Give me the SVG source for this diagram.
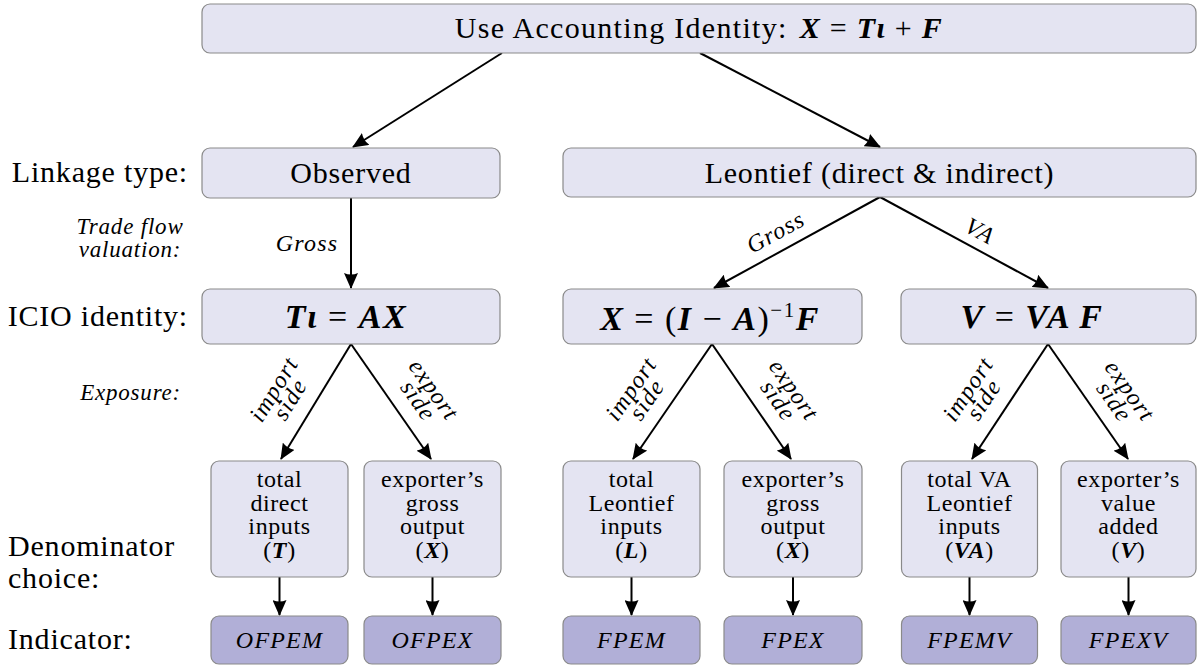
<svg xmlns="http://www.w3.org/2000/svg" width="1199" height="666" viewBox="0 0 1199 666" font-family="'Liberation Serif', 'DejaVu Serif', serif">
<defs>
<style>
.box{fill:#e4e4f2;stroke:#8a8a8a;stroke-width:1.2}
.ind{fill:#b1afd7;stroke:#8a8a8a;stroke-width:1.2}
text{font-family:'Liberation Serif','DejaVu Serif',serif}
.t{fill:#000}
.main{font-size:30px;letter-spacing:0.8px}
.top{letter-spacing:1.3px}
.den{font-size:24px;letter-spacing:0.6px}
.lab{font-size:23px;font-style:italic;letter-spacing:0.8px}
.ital{font-size:24px;font-style:italic;letter-spacing:1.2px}
.math{font-size:34px;letter-spacing:1.5px}
.m{font-weight:bold;font-style:italic}
.edge{fill:none;stroke:#000;stroke-width:2;marker-end:url(#ah)}
</style>
<marker id="ah" markerWidth="16" markerHeight="14" refX="15" refY="7" orient="auto" markerUnits="userSpaceOnUse">
<path d="M0,0 L16,7 L0,14 Q3,7 0,0 z" fill="#000"/>
</marker>
</defs>
<rect width="1199" height="666" fill="#fff"/>

<g id="connectors">
<line class="edge" x1="502" y1="53" x2="353" y2="147"/>
<line class="edge" x1="700" y1="53" x2="880" y2="147"/>
<line class="edge" x1="351" y1="198" x2="351" y2="288"/>
<line class="edge" x1="880" y1="197" x2="714" y2="288"/>
<line class="edge" x1="880" y1="197" x2="1048" y2="288"/>
<line class="edge" x1="351" y1="344" x2="281" y2="459"/>
<line class="edge" x1="351" y1="344" x2="431" y2="459"/>
<line class="edge" x1="712" y1="344" x2="633" y2="459"/>
<line class="edge" x1="712" y1="344" x2="791" y2="459"/>
<line class="edge" x1="1048" y1="344" x2="972" y2="459"/>
<line class="edge" x1="1048" y1="344" x2="1128" y2="459"/>
<line class="edge" x1="279.5" y1="577" x2="279.5" y2="615"/>
<line class="edge" x1="432.5" y1="577" x2="432.5" y2="615"/>
<line class="edge" x1="631.5" y1="577" x2="631.5" y2="615"/>
<line class="edge" x1="793" y1="577" x2="793" y2="615"/>
<line class="edge" x1="969.5" y1="577" x2="969.5" y2="615"/>
<line class="edge" x1="1128.5" y1="577" x2="1128.5" y2="615"/>
<text class="t ital" x="307" y="251" text-anchor="middle">Gross</text>
<text class="t ital" text-anchor="middle" transform="translate(776,233) rotate(-28.6)" y="7">Gross</text>
<text class="t ital" text-anchor="middle" transform="translate(980,231) rotate(28.6)" y="8">VA</text>
<g transform="translate(283,395) rotate(-58.4)"><text class="t ital" text-anchor="middle" y="-3">import</text><text class="t ital" text-anchor="middle" y="16">side</text></g>
<g transform="translate(425,396) rotate(54.9)"><text class="t ital" text-anchor="middle" y="-3">export</text><text class="t ital" text-anchor="middle" y="16">side</text></g>
<g transform="translate(640,395) rotate(-55.3)"><text class="t ital" text-anchor="middle" y="-3">import</text><text class="t ital" text-anchor="middle" y="16">side</text></g>
<g transform="translate(785,396) rotate(55.3)"><text class="t ital" text-anchor="middle" y="-3">export</text><text class="t ital" text-anchor="middle" y="16">side</text></g>
<g transform="translate(977,395) rotate(-56.3)"><text class="t ital" text-anchor="middle" y="-3">import</text><text class="t ital" text-anchor="middle" y="16">side</text></g>
<g transform="translate(1121,397) rotate(54.9)"><text class="t ital" text-anchor="middle" y="-3">export</text><text class="t ital" text-anchor="middle" y="16">side</text></g>
</g>

<g id="row-labels">
<text class="t main" x="188" y="182" text-anchor="end">Linkage type:</text>
<text class="t lab" x="130" y="234" text-anchor="middle">Trade flow</text>
<text class="t lab" x="130" y="257" text-anchor="middle">valuation:</text>
<text class="t main" x="188" y="326" text-anchor="end">ICIO identity:</text>
<text class="t lab" x="181" y="400" text-anchor="end">Exposure:</text>
<text class="t main" x="8" y="556">Denominator</text>
<text class="t main" x="8" y="588">choice:</text>
<text class="t main" x="8" y="649">Indicator:</text>
</g>

<g id="n-top">
<rect class="box" x="202" y="4" width="994" height="49" rx="8"/>
<text class="t main top" x="699" y="38" text-anchor="middle">Use Accounting Identity:<tspan dx="12" class="m">X</tspan> = <tspan class="m">Tι</tspan> + <tspan class="m">F</tspan></text>
</g>
<g id="n-observed">
<rect class="box" x="202" y="148" width="298" height="50" rx="8"/>
<text class="t main" x="351" y="183" text-anchor="middle">Observed</text>
</g>
<g id="n-leontief">
<rect class="box" x="563" y="148" width="633" height="49" rx="8"/>
<text class="t main" x="879.5" y="183" text-anchor="middle">Leontief (direct &amp; indirect)</text>
</g>
<g id="n-icio1">
<rect class="box" x="202" y="289" width="298" height="55" rx="8"/>
<text class="t math" x="346" y="328" text-anchor="middle"><tspan class="m">Tι</tspan> = <tspan class="m">AX</tspan></text>
</g>
<g id="n-icio2">
<rect class="box" x="563" y="289" width="299" height="55" rx="8"/>
<text class="t math" x="710" y="330" text-anchor="middle"><tspan class="m">X</tspan> = (<tspan class="m">I</tspan> − <tspan class="m">A</tspan>)<tspan dy="-13" font-size="21">−1</tspan><tspan dy="13" class="m">F</tspan></text>
</g>
<g id="n-icio3">
<rect class="box" x="901" y="289" width="295" height="55" rx="8"/>
<text class="t math" x="1032" y="328" text-anchor="middle"><tspan class="m">V</tspan> = <tspan class="m">VA F</tspan></text>
</g>

<g id="n-den1">
<rect class="box" x="211" y="461" width="137" height="116" rx="8"/>
<text class="t den" text-anchor="middle"><tspan x="279.5" y="487">total</tspan><tspan x="279.5" y="510.5">direct</tspan><tspan x="279.5" y="534">inputs</tspan><tspan x="279.5" y="557.5">(<tspan class="m">T</tspan>)</tspan></text>
</g>
<g id="n-den2">
<rect class="box" x="364" y="461" width="137" height="116" rx="8"/>
<text class="t den" text-anchor="middle"><tspan x="432.5" y="487">exporter’s</tspan><tspan x="432.5" y="510.5">gross</tspan><tspan x="432.5" y="534">output</tspan><tspan x="432.5" y="557.5">(<tspan class="m">X</tspan>)</tspan></text>
</g>
<g id="n-den3">
<rect class="box" x="563" y="461" width="137" height="116" rx="8"/>
<text class="t den" text-anchor="middle"><tspan x="631.5" y="487">total</tspan><tspan x="631.5" y="510.5">Leontief</tspan><tspan x="631.5" y="534">inputs</tspan><tspan x="631.5" y="557.5">(<tspan class="m">L</tspan>)</tspan></text>
</g>
<g id="n-den4">
<rect class="box" x="724" y="461" width="138" height="116" rx="8"/>
<text class="t den" text-anchor="middle"><tspan x="793" y="487">exporter’s</tspan><tspan x="793" y="510.5">gross</tspan><tspan x="793" y="534">output</tspan><tspan x="793" y="557.5">(<tspan class="m">X</tspan>)</tspan></text>
</g>
<g id="n-den5">
<rect class="box" x="901.5" y="461" width="136" height="116" rx="8"/>
<text class="t den" text-anchor="middle"><tspan x="969.5" y="487">total VA</tspan><tspan x="969.5" y="510.5">Leontief</tspan><tspan x="969.5" y="534">inputs</tspan><tspan x="969.5" y="557.5">(<tspan class="m">VA</tspan>)</tspan></text>
</g>
<g id="n-den6">
<rect class="box" x="1061" y="461" width="135" height="116" rx="8"/>
<text class="t den" text-anchor="middle"><tspan x="1128.5" y="487">exporter’s</tspan><tspan x="1128.5" y="510.5">value</tspan><tspan x="1128.5" y="534">added</tspan><tspan x="1128.5" y="557.5">(<tspan class="m">V</tspan>)</tspan></text>
</g>

<g id="n-ind1"><rect class="ind" x="211" y="616" width="137" height="48" rx="8"/><text class="t ital" x="279.5" y="648" text-anchor="middle">OFPEM</text></g>
<g id="n-ind2"><rect class="ind" x="364" y="616" width="137" height="48" rx="8"/><text class="t ital" x="432.5" y="648" text-anchor="middle">OFPEX</text></g>
<g id="n-ind3"><rect class="ind" x="563" y="616" width="137" height="48" rx="8"/><text class="t ital" x="631.5" y="648" text-anchor="middle">FPEM</text></g>
<g id="n-ind4"><rect class="ind" x="724" y="616" width="138" height="48" rx="8"/><text class="t ital" x="793" y="648" text-anchor="middle">FPEX</text></g>
<g id="n-ind5"><rect class="ind" x="901.5" y="616" width="136" height="48" rx="8"/><text class="t ital" x="969.5" y="648" text-anchor="middle">FPEMV</text></g>
<g id="n-ind6"><rect class="ind" x="1061" y="616" width="135" height="48" rx="8"/><text class="t ital" x="1128.5" y="648" text-anchor="middle">FPEXV</text></g>
</svg>
